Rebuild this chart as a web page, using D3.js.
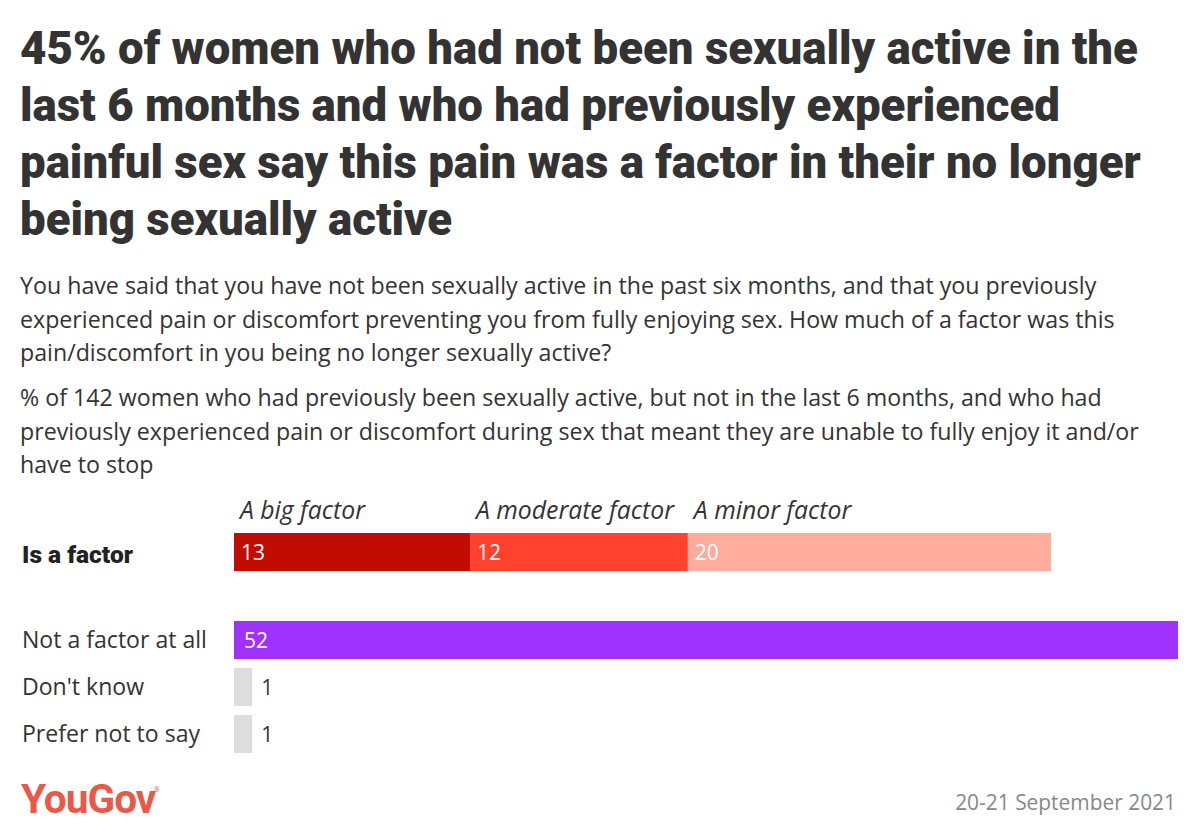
<!DOCTYPE html>
<html><head><meta charset="utf-8">
<script src="https://cdn.jsdelivr.net/npm/d3@7"></script>
<style>body{margin:0;background:#fff}svg{display:block}</style>
</head><body>
<script>
const titleLines = ["45% of women who had not been sexually active in the","last 6 months and who had previously experienced","painful sex say this pain was a factor in their no longer","being sexually active"];
const questionLines = ["You have said that you have not been sexually active in the past six months, and that you previously","experienced pain or discomfort preventing you from fully enjoying sex. How much of a factor was this","pain/discomfort in you being no longer sexually active?"];
const baseLines = ["% of 142 women who had previously been sexually active, but not in the last 6 months, and who had","previously experienced pain or discomfort during sex that meant they are unable to fully enjoy it and/or","have to stop"];
const factorSegments = ["A big factor","A moderate factor","A minor factor"];
const factorValues = [13,12,20];
const otherCategories = ["Not a factor at all","Don't know","Prefer not to say"];
const otherValues = [52,1,1];
const factorColors = ["#c20c02","#ff412d","#ffab9d"];
const otherColors = ["#a032ff","#dddddd","#dddddd"];

const W=1200,H=830;
const svg=d3.select("body").append("svg").attr("width",W).attr("height",H);
const font="'Open Sans', 'Noto Sans', sans-serif";
const tfont="Roboto, 'Noto Sans', sans-serif";

// fit font-size so that the given selection's first text reaches target width
function fit(sel, target){
  const n=sel.nodes()[0];
  const fs=parseFloat(n.getAttribute("font-size"));
  const w=n.getComputedTextLength();
  const nf=fs*target/w;
  sel.attr("font-size",nf);
}

const gT=svg.append("g");
gT.selectAll("text").data(titleLines).join("text")
 .attr("x",20).attr("y",(d,i)=>64+i*57).attr("font-family",tfont).attr("font-weight",900)
 .attr("font-size",39).attr("fill","#333").text(d=>d);
fit(gT.selectAll("text"),1118);
const gQ=svg.append("g");
gQ.selectAll("text").data(questionLines).join("text")
 .attr("x",20).attr("y",(d,i)=>294+i*33.5).attr("font-family",font).attr("font-size",21).attr("fill","#333").text(d=>d);
fit(gQ.selectAll("text"),1077);
const gB=svg.append("g");
gB.selectAll("text").data(baseLines).join("text")
 .attr("x",20).attr("y",(d,i)=>406+i*33.5).attr("font-family",font).attr("font-size",21).attr("fill","#333").text(d=>d);
fit(gB.selectAll("text"),1082);

const x=d3.scaleLinear().domain([0,52]).range([234,1178]);
let cum=0;const stack=factorValues.map((v,i)=>{const s={name:factorSegments[i],v,x0:cum,x1:cum+v,c:factorColors[i]};cum+=v;return s;});
const gF=svg.append("g");
gF.selectAll("rect").data(stack).join("rect").attr("x",d=>x(d.x0)).attr("width",d=>x(d.x1)-x(d.x0))
 .attr("y",533).attr("height",38).attr("fill",d=>d.c);
gF.selectAll("text.v").data(stack).join("text").attr("class","v").attr("x",d=>x(d.x0)+7).attr("y",559)
 .attr("font-family",font).attr("font-size",20).attr("fill","#fff").text(d=>d.v);
const hdr=gF.selectAll("text.h").data(stack).join("text").attr("class","h").attr("x",d=>x(d.x0)+6).attr("y",519)
 .attr("font-family",font).attr("font-style","italic").attr("font-size",21).attr("fill","#333").text(d=>d.name);
fit(hdr,125);
const isf=svg.append("text").attr("x",22).attr("y",563).attr("font-family",tfont).attr("font-weight",900)
 .attr("font-size",21).attr("fill","#222").text("Is a factor");
fit(isf,111);

const y=d3.scaleBand().domain(otherCategories).range([621,753]).paddingInner(9/47).paddingOuter(0);
const gO=svg.append("g");
gO.selectAll("rect").data(otherCategories).join("rect").attr("x",x(0)).attr("y",d=>y(d))
 .attr("width",(d,i)=>x(otherValues[i])-x(0)).attr("height",y.bandwidth()).attr("fill",(d,i)=>otherColors[i]);
const lbl=gO.selectAll("text.l").data(otherCategories).join("text").attr("class","l").attr("x",22).attr("y",d=>y(d)+y.bandwidth()/2+8)
 .attr("font-family",font).attr("font-size",21).attr("fill","#333").text(d=>d);
fit(lbl,185);
const vl=gO.selectAll("text.v").data(otherCategories).join("text").attr("class","v")
 .attr("x",(d,i)=>otherValues[i]>5?x(0)+10:x(otherValues[i])+9).attr("y",d=>y(d)+y.bandwidth()/2+8)
 .attr("font-family",font).attr("font-size",21).attr("fill",(d,i)=>otherValues[i]>5?"#fff":"#333").text((d,i)=>otherValues[i]);
gF.selectAll("text.v").attr("font-size",21).attr("y",560);

const yg=svg.append("text").attr("x",21).attr("y",813).attr("font-family",tfont).attr("font-weight",700)
 .attr("font-size",33).attr("letter-spacing",-1).attr("fill","#e8594a").text("YouGov");
fit(yg,133);
svg.append("text").attr("x",154).attr("y",792).attr("font-family",font).attr("font-size",7).attr("fill","#e8594a").text("®");
const dt=svg.append("text").attr("x",1176).attr("y",810).attr("text-anchor","end").attr("font-family",font)
 .attr("font-size",20).attr("fill","#888").text("20-21 September 2021");
fit(dt,221);
</script>
</body></html>
